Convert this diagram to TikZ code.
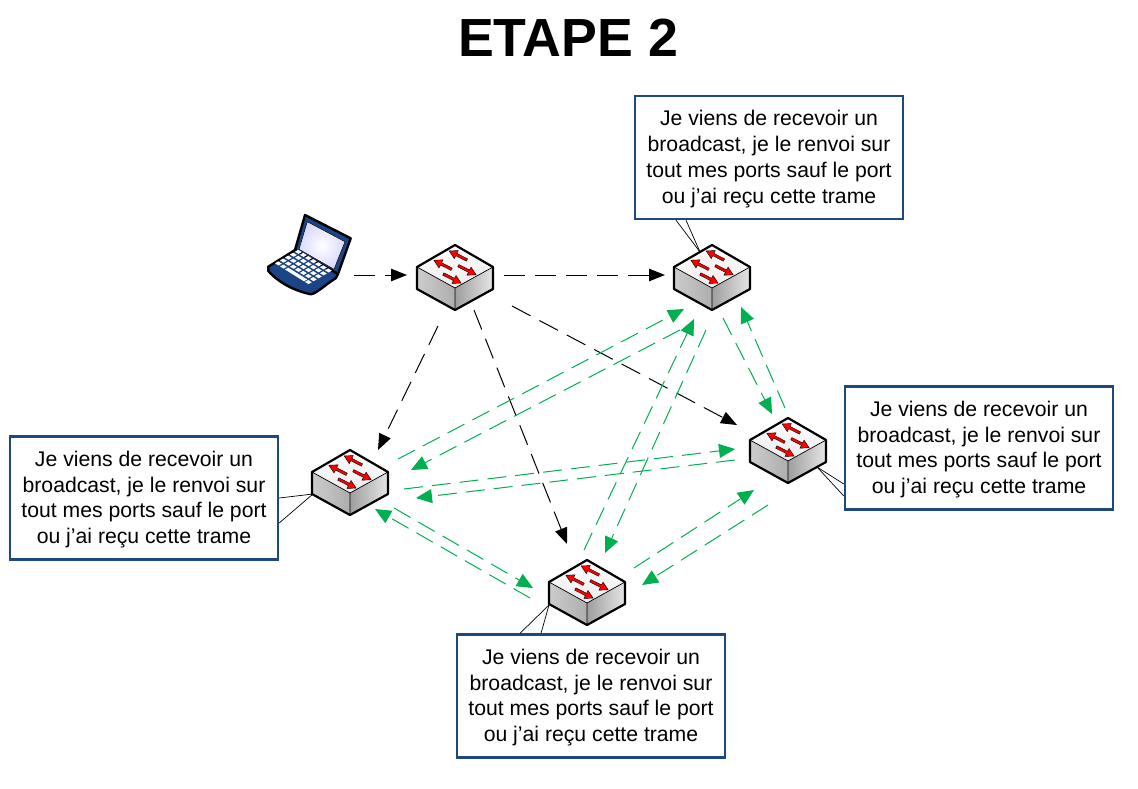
\documentclass[tikz,border=0pt]{standalone}
\usepackage{fontspec}
\setmainfont{Liberation Sans}
\usetikzlibrary{arrows.meta}

\definecolor{boxblue}{HTML}{1F497D}
\definecolor{linkgreen}{HTML}{00B050}
\definecolor{laptopblue}{HTML}{1C4587}

\newcommand{\bcasttext}{\rule{0pt}{18.5pt}Je viens de recevoir un\\broadcast, je le renvoi sur\\tout mes ports sauf le port\\ou j’ai reçu cette trame}

\tikzset{
	msgbox/.style={draw=boxblue,line width=2.4pt,fill=white,align=center,minimum width=268pt,minimum height=123pt,inner sep=0pt,font=\fontsize{21.2}{25.7}\selectfont},
	titletext/.style={font=\fontsize{53.7}{60}\selectfont\bfseries,inner sep=0pt},
	devicebox/.style={minimum width=78pt,minimum height=68pt,inner sep=0pt},
	blacklink/.style={line width=1pt,dash pattern=on 21pt off 10pt,-{Triangle[length=16pt,width=12.5pt]}},
	greenlink/.style={linkgreen,line width=1pt,dash pattern=on 19pt off 9pt,-{Triangle[length=16pt,width=14pt]}},
	calloutline/.style={line width=0.7pt},
	switchicon/.pic={
		\shade[top color=white,bottom color=black!8] (0,-33) -- (38,-11) -- (0,10) -- (-38,-11) -- cycle;
		\shade[left color=black!20,middle color=black!2,right color=black!32] (-38,-11) -- (0,10) -- (0,32) -- (-38,11) -- cycle;
		\shade[left color=black!38,right color=black!10] (0,10) -- (38,-11) -- (38,11) -- (0,32) -- cycle;
		\draw[line width=0.7pt] (-38,-11) -- (0,10) -- (0,32);
		\draw[line width=0.7pt] (0,10) -- (38,-11);
		\draw[line width=2.2pt,line join=round] (0,-33) -- (38,-11) -- (38,11) -- (0,32) -- (-38,11) -- (-38,-11) -- cycle;
		\foreach \tailx/\taily/\ang in {12/-18/153,-3.3/-8.7/153,3.3/-12.3/-27,-11.7/-4/-27}
			\draw[fill=red,line width=0.4pt,shift={(\tailx,\taily)},rotate=\ang] (0,-1.3) -- (12,-1.3) -- (12,-4.5) -- (20,0) -- (12,4.5) -- (12,1.3) -- (0,1.3) -- cycle;
	},
	laptopicon/.pic={
		% lid
		\draw[fill=laptopblue,line width=2.4pt,line join=round] (-4,-40) -- (41.7,-16.7) -- (29,19) -- (-14,-5) -- cycle;
		\shade[draw=black,line width=0.5pt,inner color=white,outer color=black!12!blue!15] (-1.7,-33.3) -- (36,-13.3) -- (25,14.3) -- (-10,-5.7) -- cycle;
		% base
		\draw[fill=laptopblue,line width=2.4pt,line join=round] (-40.7,11.7) -- (-14,-5) -- (29,19) -- (27,23) .. controls (16,30) and (8,38) .. (2,39.3) .. controls (-14,36) and (-30,28) .. (-40.7,16) -- cycle;
		\foreach \i in {0,...,6}
			\foreach \j in {1,...,4}
				\fill[white,shift={({-34+\i*5+\j*5},{8.3+\i*3.1-\j*2.9})}] (0,0) -- (3.6,2.2) -- (6.8,0.3) -- (3.2,-1.9) -- cycle;
		\foreach \i in {0,1,6}
			\fill[white,shift={({-34+\i*5},{8.3+\i*3.1})}] (0,0) -- (3.6,2.2) -- (6.8,0.3) -- (3.2,-1.9) -- cycle;
		\fill[white,shift={(-24,14.5)}] (0,0) -- (19,11.8) -- (22.2,9.9) -- (3.2,-1.9) -- cycle;
	},
}

\begin{document}
\begin{tikzpicture}[x=1pt,y=-1pt]
	\useasboundingbox (0,0) rectangle (1138,788);

	\node[titletext] (title) at (568,38) {ETAPE 2};

	\node[devicebox] (pc)  at (309,255) {};
	\node[devicebox] (swA) at (455,278) {};
	\node[devicebox] (swB) at (712,278) {};
	\node[devicebox] (swC) at (350,483) {};
	\node[devicebox] (swD) at (587,593) {};
	\node[devicebox] (swE) at (788,451) {};

	\node[msgbox] (msgB) at (769,157.5) {\bcasttext};
	\node[msgbox] (msgC) at (144,498)   {\bcasttext};
	\node[msgbox] (msgD) at (591,696)   {\bcasttext};
	\node[msgbox] (msgE) at (979,448)   {\bcasttext};

	% callout lines
	\foreach \msg/\mx/\my/\sw/\sx/\sy in {
		msgB.south/-93/0/swB/-12/-26, msgB.south/-83/0/swB/-12/-26,
		msgC.east/0/0/swC/-37/11, msgC.east/0/25/swC/-37/11,
		msgD.north/-71/0/swD/-38/12, msgD.north/-50/0/swD/-38/12,
		msgE.west/0/36/swE/29/16, msgE.west/0/48/swE/29/16}
		\draw[calloutline] ([shift={(\mx,\my)}]\msg) -- ([shift={(\sx,\sy)}]\sw.center);

	\pic at (pc.center) {laptopicon};
	\foreach \sw in {swA,swB,swC,swD,swE}
		\pic at (\sw.center) {switchicon};

	% first broadcast
	\foreach \src/\ax/\ay/\dst/\bx/\by in {
		pc/45/20/swA/-48/-3,
		swA/49/-3/swB/-47/-3,
		swA/-17/48/swC/28/-33,
		swA/19/32/swD/-20/-49,
		swA/57/28/swE/-51/-26}
		\draw[blacklink] ([shift={(\ax,\ay)}]\src.center) -- ([shift={(\bx,\by)}]\dst.center);

	% second broadcast
	\foreach \src/\ax/\ay/\dst/\bx/\by in {
		swC/48/-24/swB/-28/31,
		swB/-32/52/swC/61/-13,
		swD/-3/-43/swB/-18/41,
		swB/-6/52/swD/18/-40,
		swB/11/40/swE/-16/-37,
		swE/-3/-43/swB/29/29,
		swC/54/6/swE/-53/-2,
		swE/-53/9/swC/66/15,
		swC/44/25/swD/-54/-5,
		swD/-57/5/swC/25/26,
		swD/47/-25/swE/-34/39,
		swE/-20/54/swD/55/-8}
		\draw[greenlink] ([shift={(\ax,\ay)}]\src.center) -- ([shift={(\bx,\by)}]\dst.center);
\end{tikzpicture}
\end{document}
